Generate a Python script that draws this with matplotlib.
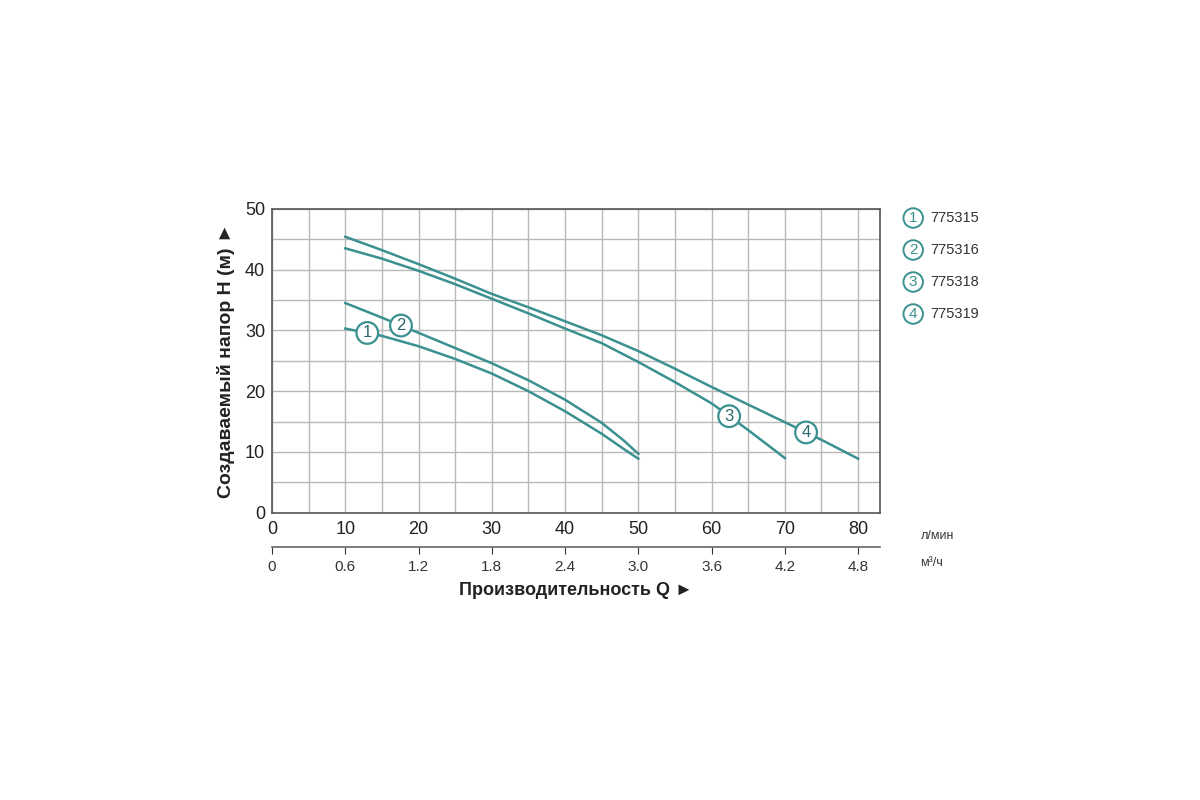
import matplotlib.pyplot as plt
import numpy as np

plt.rcParams['font.family'] = ['Liberation Sans', 'DejaVu Sans']

# flow in l/min, head in m
q1 = [10, 15, 20, 25, 30, 35, 40, 45, 48, 50]
h1 = [30.3, 29.1, 27.4, 25.3, 22.9, 20.0, 16.7, 13.0, 10.5, 8.9]
q2 = [10, 15, 20, 25, 30, 35, 40, 45, 48, 50]
h2 = [34.5, 32.1, 29.6, 27.1, 24.6, 21.8, 18.6, 14.8, 11.9, 9.7]
q3 = [10, 15, 20, 25, 30, 35, 40, 45, 50, 55, 60, 65, 70]
h3 = [43.5, 41.8, 39.8, 37.6, 35.2, 32.8, 30.3, 27.9, 24.8, 21.5, 18.0, 13.6, 9.0]
q4 = [10, 15, 20, 25, 30, 35, 40, 45, 50, 55, 60, 65, 70, 75, 80]
h4 = [45.4, 43.2, 40.9, 38.5, 36.0, 33.8, 31.5, 29.2, 26.6, 23.7, 20.7, 17.8, 14.9, 12.0, 8.9]

models = ['775315', '775316', '775318', '775319']
label_q = [13.0, 17.6, 62.4, 72.9]

q_ticks = [0, 10, 20, 30, 40, 50, 60, 70, 80]
m3h_ticks = ['0', '0.6', '1.2', '1.8', '2.4', '3.0', '3.6', '4.2', '4.8']

teal = '#3b9090'
dark = '#2a6a6b'

fig = plt.figure(figsize=(12, 8), dpi=100)
ax = fig.add_axes([0.2267, 0.359, 0.5067, 0.380])

curves = [(q1, h1), (q2, h2), (q3, h3), (q4, h4)]
for (q, h) in curves:
    ax.plot(q, h, color=teal, lw=1.8, zorder=3, solid_joinstyle='round')

# numbered circles sitting on each curve
for i, (q, h) in enumerate(curves):
    y = np.interp(label_q[i], q, h)
    ax.text(label_q[i], y, str(i + 1), ha='center', va='center', fontsize=12,
            color=dark, zorder=4,
            bbox=dict(boxstyle='circle,pad=0.2', fc='white', ec=teal, lw=1.6))

grid5 = np.arange(0, 83, 5)
ax.set_xlim(0, 83)
ax.set_ylim(0, 50)
ax.set_xticks(grid5)
ax.set_xticklabels([str(v) if v % 10 == 0 else '' for v in grid5])
ax.set_yticks(np.arange(0, 51, 5))
ax.set_yticklabels([str(v) if v % 10 == 0 else '' for v in np.arange(0, 51, 5)])
ax.grid(True, color='#b8b8b8', lw=1.0)
ax.set_axisbelow(True)
ax.tick_params(length=0, labelsize=13, colors='#222222')
ax.tick_params(axis='x', pad=6)
ax.tick_params(axis='y', pad=5)
for s in ax.spines.values():
    s.set_color('#555555')
    s.set_linewidth(1.2)

ax.set_ylabel('Создаваемый напор H (м) ►', fontsize=14, fontweight='bold',
              color='#222222')
ax.yaxis.set_label_coords(-0.061, 0.5)

sec = ax.secondary_xaxis(-0.113, functions=(lambda x: x * 0.06, lambda x: x / 0.06))
sec.set_xticks([v * 0.06 for v in q_ticks])
sec.set_xticklabels(m3h_ticks)
sec.tick_params(length=5, direction='out', labelsize=11, colors='#333333', pad=4)
sec.spines['bottom'].set_color('#666666')
sec.spines['bottom'].set_linewidth(1.2)
sec.set_xlabel('Производительность Q ►', fontsize=13, fontweight='bold',
               color='#222222', labelpad=6)

fig.text(0.767, 0.330, 'л/мин', fontsize=9, color='#333333', va='center')
fig.text(0.767, 0.296, 'м³/ч', fontsize=9, color='#333333', va='center')

for i, name in enumerate(models):
    y = 0.7275 - i * 0.04
    fig.text(0.761, y, str(i + 1), ha='center', va='center', fontsize=11,
             color=teal,
             bbox=dict(boxstyle='circle,pad=0.18', fc='white', ec=teal, lw=1.4))
    fig.text(0.775, y, name, ha='left', va='center', fontsize=10.5, color='#333333')

fig.savefig('out.png', dpi=100, facecolor='white')
